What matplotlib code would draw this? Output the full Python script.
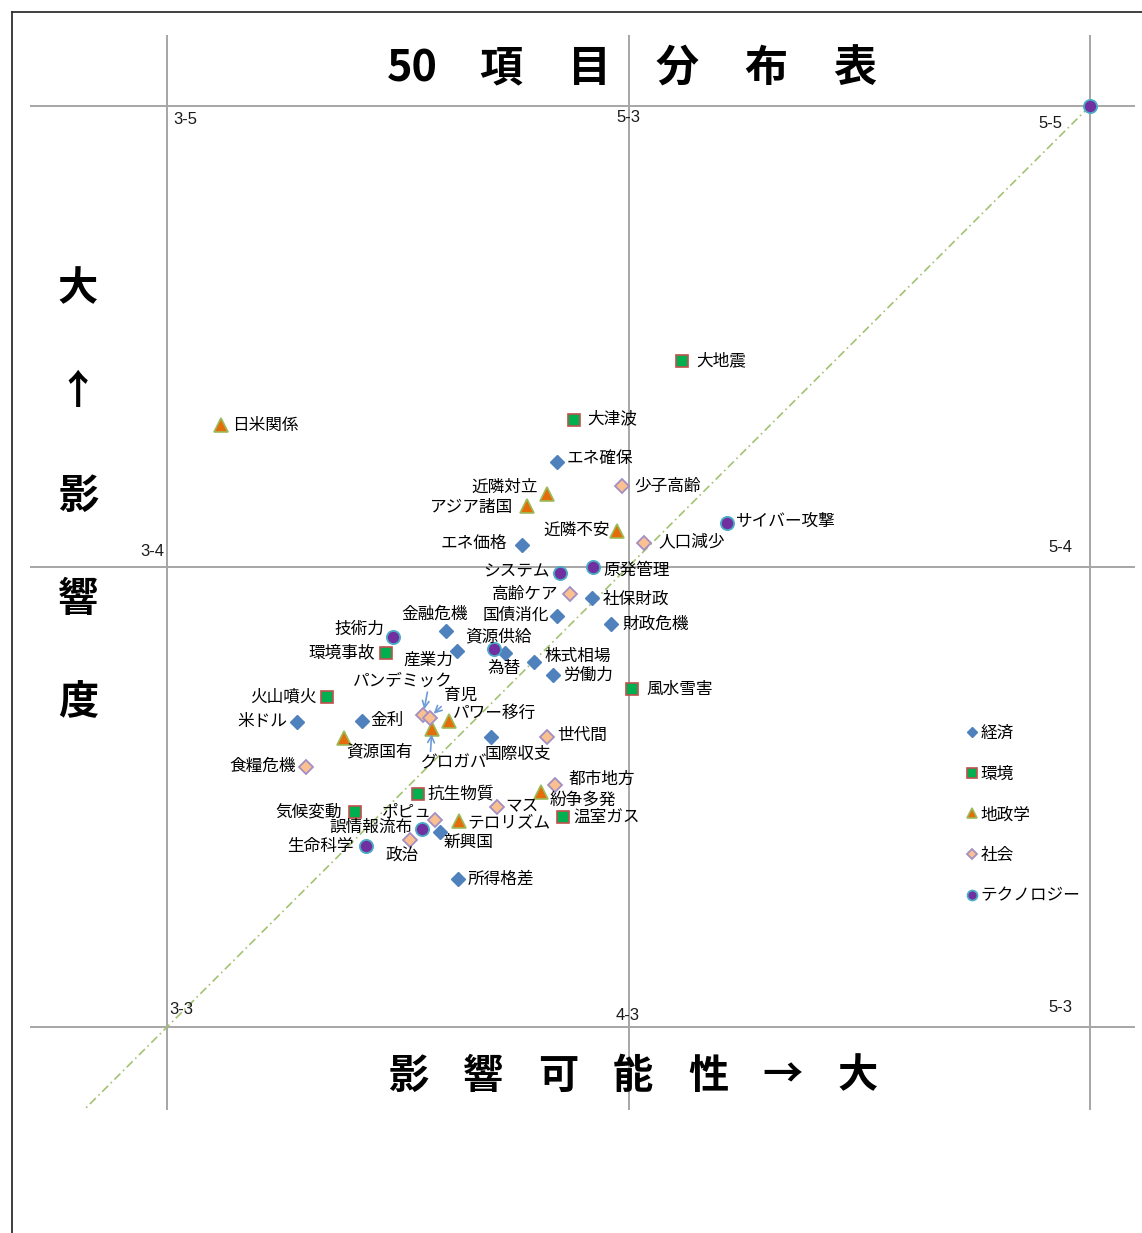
import matplotlib
matplotlib.use("Agg")
import matplotlib.pyplot as plt
from matplotlib import font_manager as fm

plt.rcParams['font.family'] = ['Noto Sans CJK JP', 'DejaVu Sans']

W, H, DPI = 1142, 1233, 100

# ---- data: (impact likelihood, impact magnitude) per item ----
econ_names = ['エネ確保', 'エネ価格', '社保財政', '国債消化', '財政危機', '金融危機', '産業力',
              '為替', '株式相場', '労働力', '米ドル', '金利', '国際収支', '新興国', '所得格差']
econ_x = [3.845, 3.770, 3.921, 3.845, 3.962, 3.605, 3.629, 3.732, 3.795, 3.836, 3.282, 3.423,
          3.702, 3.592, 3.631]
econ_y = [4.227, 4.047, 3.932, 3.893, 3.875, 3.860, 3.817, 3.812, 3.793, 3.764, 3.662, 3.665,
          3.629, 3.423, 3.321]

env_names = ['大地震', '大津波', '環境事故', '火山噴火', '風水雪害', '抗生物質', '気候変動', '温室ガス']
env_x = [4.116, 3.882, 3.475, 3.347, 4.008, 3.544, 3.407, 3.858]
env_y = [4.446, 4.318, 3.812, 3.717, 3.734, 3.506, 3.467, 3.456]

geo_names = ['日米関係', '近隣対立', 'アジア諸国', '近隣不安', 'パワー移行', 'グロガバ', '資源国有',
             '紛争多発', 'テロリズム']
geo_x = [3.117, 3.823, 3.780, 3.975, 3.612, 3.574, 3.384, 3.810, 3.633]
geo_y = [4.307, 4.157, 4.131, 4.077, 3.665, 3.648, 3.628, 3.510, 3.447]

soc_names = ['少子高齢', '人口減少', '高齢ケア', 'パンデミック', '育児', '世代間', '食糧危機',
             '都市地方', 'マス', 'ポピュ', '政治']
soc_x = [3.986, 4.034, 3.873, 3.555, 3.569, 3.823, 3.301, 3.841, 3.715, 3.581, 3.527]
soc_y = [4.175, 4.051, 3.940, 3.678, 3.672, 3.630, 3.565, 3.526, 3.478, 3.450, 3.406]

tech_names = ['サイバー攻撃', 'システム', '原発管理', '技術力', '資源供給', '誤情報流布', '生命科学', '']
tech_x = [4.213, 3.852, 3.923, 3.490, 3.709, 3.553, 3.431, 5.0]
tech_y = [4.094, 3.986, 3.999, 3.847, 3.821, 3.430, 3.393, 5.0]

categories = ['経済', '環境', '地政学', '社会', 'テクノロジー']

title_text = '50 項 目 分 布 表'
xlabel_text = '影 響 可 能 性 → 大'
ylabel_text = '大 ↑ 影 響 度'

# grid corner captions
corner_text = ['3-5', '5-3', '5-5', '3-4', '5-4', '3-3', '4-3', '5-3']

# ---- styling ----
STYLES = {
    '経済': dict(marker='D', ms=7.3, mfc='#4f81bd', mec='#4f81bd', mew=1.0),
    '環境': dict(marker='s', ms=9.0, mfc='#00b050', mec='#c0504d', mew=1.2),
    '地政学': dict(marker='^', ms=10.5, mfc='#e46c0a', mec='#9bbb59', mew=1.2),
    '社会': dict(marker='D', ms=7.0, mfc='#fac090', mec='#a38fc3', mew=1.3),
    'テクノロジー': dict(marker='o', ms=9.5, mfc='#7030a0', mec='#4bacc6', mew=1.3),
}

# label placement: pixel offset of the text anchor from the marker (dx, dy-down, ha)
LABEL_POS = {
    '日米関係': (11, 0, 'left'), '大地震': (14, 0, 'left'), '大津波': (13, -1, 'left'),
    'エネ確保': (10, -3, 'left'), '近隣対立': (-9, -7, 'right'), 'アジア諸国': (-14, 1, 'right'),
    '少子高齢': (12, 0, 'left'), '近隣不安': (-7, -1, 'right'), 'エネ価格': (-15, -1, 'right'),
    'サイバー攻撃': (9, -2, 'left'), '人口減少': (14, -1, 'left'), 'システム': (-10, -1, 'right'),
    '原発管理': (10, 3, 'left'), '高齢ケア': (-12, 0, 'right'), '社保財政': (11, 1, 'left'),
    '国債消化': (-8, -1, 'right'), '財政危機': (11, 0, 'left'), '金融危機': (-12, -17, 'center'),
    '技術力': (-9, -8, 'right'), '環境事故': (-11, 0, 'right'), '資源供給': (4, -12, 'center'),
    '産業力': (-4, 9, 'right'), '為替': (-1, 15, 'center'), '株式相場': (11, -5, 'left'),
    '労働力': (10, 0, 'left'), '風水雪害': (14, 0, 'left'), 'パンデミック': (-20, -34, 'center'),
    '育児': (31, -22, 'center'), 'パワー移行': (4, -7, 'left'), '金利': (8, 0, 'left'),
    '米ドル': (-10, -1, 'right'), '火山噴火': (-11, 0, 'right'), '資源国有': (2, 14, 'left'),
    'グロガバ': (21, 34, 'center'), '国際収支': (27, 17, 'center'), '世代間': (10, -1, 'left'),
    '食糧危機': (-10, -1, 'right'), '都市地方': (13, -5, 'left'), '紛争多発': (9, 8, 'left'),
    '温室ガス': (10, 0, 'left'), '抗生物質': (9, 0, 'left'), 'マス': (8, -1, 'left'),
    '気候変動': (-13, 0, 'right'), 'ポピュ': (-3, -7, 'right'), 'テロリズム': (8, 2, 'left'),
    '誤情報流布': (-10, -2, 'right'), '新興国': (3, 10, 'left'), '政治': (-8, 15, 'center'),
    '生命科学': (-12, 0, 'right'), '所得格差': (9, 0, 'left'),
}
# leader arrows: where on the label box the arrow leaves (relpos)
ARROW_FROM = {'パンデミック': (0.75, 0.05), '育児': (0.05, 0.1), 'グロガバ': (0.16, 0.95)}


def fx(px):
    return px / W


def fy(py):
    return 1 - py / H


fig = plt.figure(figsize=(W / DPI, H / DPI), dpi=DPI)
fig.patch.set_facecolor('white')

# outer frame fragment (top and left rules)
fig.add_artist(plt.Line2D([fx(12), fx(1142)], [fy(12), fy(12)], color='#303030', lw=1.3))
fig.add_artist(plt.Line2D([fx(12), fx(12)], [fy(12), fy(1233)], color='#303030', lw=1.3))

ax = fig.add_axes([fx(30), fy(1110), (1135 - 30) / W, (1110 - 35) / H])
ax.set_xlim(2.7031, 5.0975)
ax.set_ylim(2.8198, 5.1542)
ax.axis('off')

for v in (3, 4, 5):
    ax.axvline(v, color='#a6a6a6', lw=1.4, zorder=1)
    ax.axhline(v, color='#a6a6a6', lw=1.4, zorder=1)

# equal-likelihood/impact diagonal
ax.plot([2.70, 5.0], [2.70, 5.0], color='#a3c272', lw=1.2, dashes=[5, 2.2, 1, 2.2], zorder=2)

series = [
    ('経済', econ_names, econ_x, econ_y),
    ('環境', env_names, env_x, env_y),
    ('地政学', geo_names, geo_x, geo_y),
    ('社会', soc_names, soc_x, soc_y),
    ('テクノロジー', tech_names, tech_x, tech_y),
]

handles = []
for cat, names, xs, ys in series:
    h, = ax.plot(xs, ys, ls='none', label=cat, zorder=4, clip_on=False, **STYLES[cat])
    handles.append(h)
    for name, x, y in zip(names, xs, ys):
        if not name:
            continue
        dx, dy, ha = LABEL_POS[name]
        kw = {}
        if name in ARROW_FROM:
            kw['arrowprops'] = dict(arrowstyle='->', color='#6e9bd6', lw=1.2,
                                    shrinkA=0, shrinkB=4, relpos=ARROW_FROM[name])
        ax.annotate(name, (x, y), xytext=(dx, -dy), textcoords='offset pixels',
                    ha=ha, va='center', fontsize=12, color='#000000', zorder=5, **kw)

ax.legend(handles=handles, loc='upper left', bbox_to_anchor=(fx(965), fy(725)),
          bbox_transform=fig.transFigure, frameon=False, fontsize=12, markerscale=0.75,
          handlelength=0.8, handletextpad=0.15, labelspacing=1.42, borderpad=0,
          borderaxespad=0, numpoints=1)

# corner captions
names_avail = {f.name for f in fm.fontManager.ttflist}
small_font = 'Liberation Sans Narrow' if 'Liberation Sans Narrow' in names_avail else 'Liberation Sans'
corner_pos = [(173, 120, 'left'), (628, 118, 'center'), (1038, 123, 'left'),
              (140, 552, 'left'), (1048, 548, 'left'), (169, 1010, 'left'),
              (628, 1015, 'center'), (1048, 1007, 'left')]
for txt, (px, py, ha) in zip(corner_text, corner_pos):
    fig.text(fx(px), fy(py), txt, ha=ha, va='center', fontsize=12, family=small_font,
             color='#1a1a1a')


def spread(text, x0, y0, step, horizontal=True, **kw):
    for i, tok in enumerate(text.split()):
        px = x0 + i * step if horizontal else x0
        py = y0 if horizontal else y0 + i * step
        fig.text(fx(px), fy(py), tok, ha='center', va='center', **kw)


spread(title_text, 412, 68, 88.5, fontsize=31, fontweight='bold')
spread(xlabel_text, 408, 1076, 75, fontsize=29, fontweight='bold')
spread(ylabel_text, 78, 289, 103.5, horizontal=False, fontsize=29, fontweight='bold')

fig.savefig('out.png', dpi=DPI)
